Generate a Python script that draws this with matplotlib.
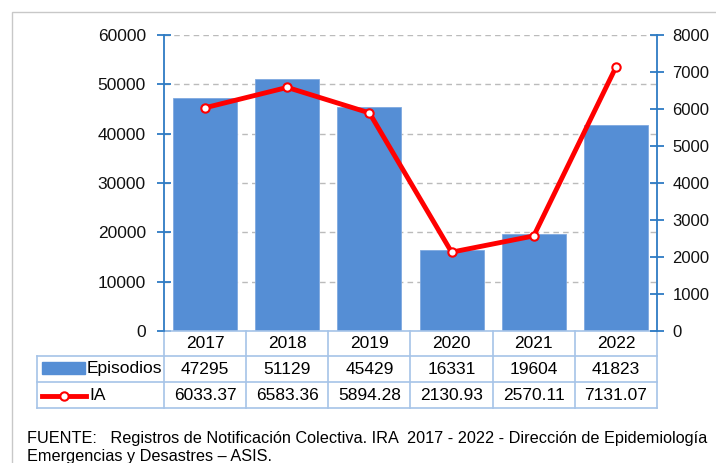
import matplotlib
matplotlib.use('Agg')
import matplotlib.pyplot as plt
import matplotlib.transforms as mtransforms
from matplotlib.patches import Rectangle
import numpy as np

plt.rcParams['font.family'] = ['Liberation Sans', 'DejaVu Sans']

years = ['2017', '2018', '2019', '2020', '2021', '2022']
episodios = [47295, 51129, 45429, 16331, 19604, 41823]
ia = [6033.37, 6583.36, 5894.28, 2130.93, 2570.11, 7131.07]
ia_labels = ['6033.37', '6583.36', '5894.28', '2130.93', '2570.11', '7131.07']

W, H = 716, 463
fig = plt.figure(figsize=(W / 100, H / 100), dpi=100)

# frame around the chart
fig.add_artist(Rectangle((12 / W, -0.2), 2, 1.2 - 12 / H, transform=fig.transFigure,
                         fill=False, edgecolor='#c8c8c8', lw=1))

x0, x1, ytop, ybot = 164, 657, 35, 331
ax = fig.add_axes([x0 / W, 1 - ybot / H, (x1 - x0) / W, (ybot - ytop) / H])
ax2 = ax.twinx()

xs = np.arange(len(years))
bar_col = '#558ed5'
line_col = '#ff0000'
axis_col = '#2e7bc4'
grid_col = '#bbbbbb'
tab_col = '#a6c4e8'

ax.bar(xs, episodios, width=0.78, color=bar_col, edgecolor='#7fa9e0', lw=0.6, zorder=2)
ax.set_xlim(-0.5, len(years) - 0.5)
ax.set_ylim(0, 60000)
ax.set_yticks(range(0, 60001, 10000))
ax.yaxis.grid(True, ls=(0, (4, 3)), color=grid_col, lw=1)
ax.set_axisbelow(True)
ax.set_xticks([])

ax2.plot(xs, ia, color=line_col, lw=3.5, marker='o', ms=6, mfc='white', mec=line_col, mew=1.5, zorder=3)
ax2.set_ylim(0, 8000)
ax2.set_yticks(range(0, 8001, 1000))

for a in (ax, ax2):
    for s in a.spines.values():
        s.set_visible(False)
ax.spines['left'].set_visible(True)
ax.spines['left'].set_color(axis_col)
ax.spines['left'].set_linewidth(1.3)
ax2.spines['right'].set_visible(True)
ax2.spines['right'].set_color(axis_col)
ax2.spines['right'].set_linewidth(1.3)
ax.tick_params(axis='y', direction='inout', length=10, width=1.3, color=axis_col,
               labelsize=12.5, pad=8, labelcolor='#111111')
ax2.tick_params(axis='y', direction='inout', length=10, width=1.3, color=axis_col,
                labelsize=12, pad=6, labelcolor='#111111')

# data table under the axes
trans = mtransforms.blended_transform_factory(ax.transData, ax.transAxes)
hpx = ybot - ytop
def ay(ypx):
    return (ybot - ypx) / hpx

r0, r1, r2, r3 = ay(331), ay(356), ay(382), ay(408)
xl = -0.5 - (x0 - 37) / ((x1 - x0) / len(years))
xr = len(years) - 0.5
kw = dict(transform=trans, clip_on=False, color=tab_col, lw=1.2)
ax.plot([-0.5, xr], [r0, r0], **kw)
for yy in (r1, r2, r3):
    ax.plot([xl, xr], [yy, yy], **kw)
ax.plot([xl, xl], [r1, r3], **kw)
for i in range(len(years) + 1):
    ax.plot([i - 0.5, i - 0.5], [r0, r3], **kw)

fs = 12.5
for i, y in enumerate(years):
    ax.text(i, (r0 + r1) / 2, y, transform=trans, ha='center', va='center', fontsize=fs)
    ax.text(i, (r1 + r2) / 2, str(episodios[i]), transform=trans, ha='center', va='center', fontsize=fs)
    ax.text(i, (r2 + r3) / 2, ia_labels[i], transform=trans, ha='center', va='center', fontsize=fs)

# legend keys inside the table
ux = (x1 - x0) / len(years)
def dx(xpx):
    return -0.5 + (xpx - x0) / ux
ax.add_patch(Rectangle((dx(42), ay(374)), dx(85) - dx(42), ay(362) - ay(374), transform=trans,
                       clip_on=False, color=bar_col))
ax.text(dx(87), (r1 + r2) / 2, 'Episodios', transform=trans, ha='left', va='center', fontsize=fs)
ax.plot([dx(42), dx(86)], [ay(396)] * 2, transform=trans, clip_on=False, color=line_col, lw=3.5)
ax.plot([dx(64)], [ay(396)], transform=trans, clip_on=False, marker='o', ms=6, mfc='white',
        mec=line_col, mew=1.5)
ax.text(dx(89), (r2 + r3) / 2, 'IA', transform=trans, ha='left', va='center', fontsize=fs)

fig.text(27 / W, 1 - 438 / H,
         'FUENTE:   Registros de Notificación Colectiva. IRA  2017 - 2022 - Dirección de Epidemiología',
         fontsize=11.7, va='center', ha='left')
fig.text(27 / W, 1 - 456 / H, 'Emergencias y Desastres – ASIS.', fontsize=11.7, va='center', ha='left')

fig.savefig('out.png', dpi=100)
